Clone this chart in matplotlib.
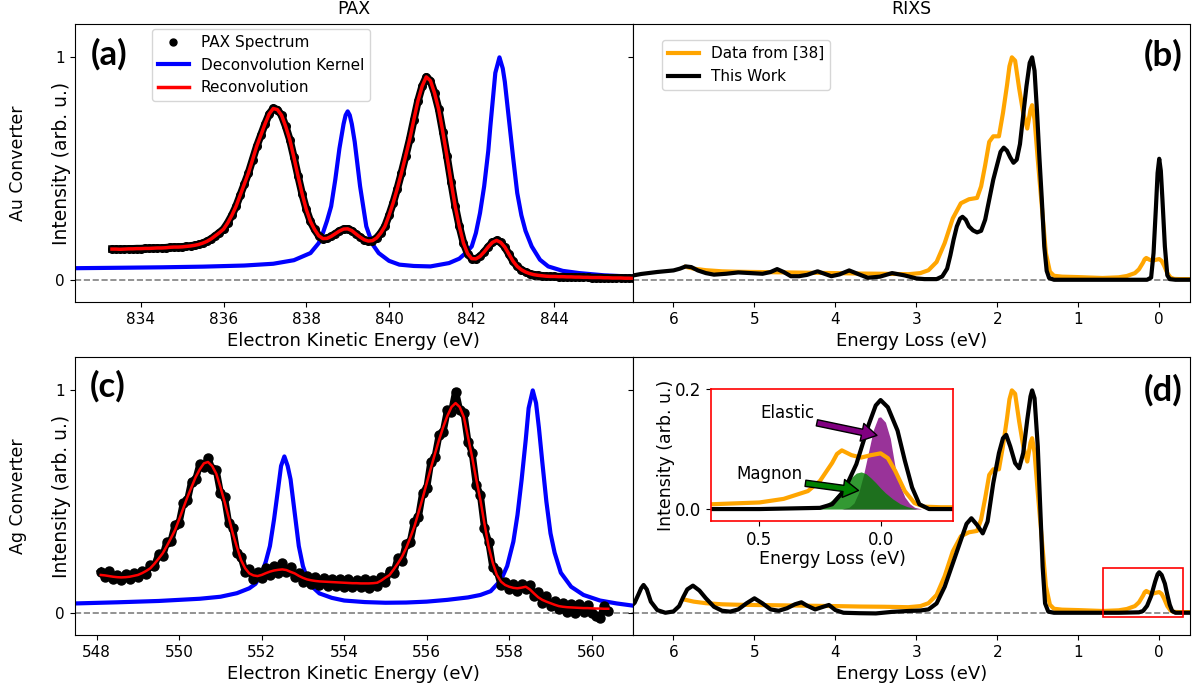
import numpy as np
import matplotlib
matplotlib.use("Agg")
import matplotlib.pyplot as plt
from matplotlib.lines import Line2D
from matplotlib.patches import Rectangle

plt.rcParams["font.family"] = "DejaVu Sans"

# ---- (a) PAX, Au converter: spectrum on a 0.1 eV grid starting at 833.3 eV
au_start = 833.3
au_pax = [0.138, 0.138, 0.137, 0.138, 0.139, 0.139, 0.140, 0.140, 0.141, 0.141,
          0.142, 0.143, 0.143, 0.144, 0.146, 0.147, 0.147, 0.148, 0.150, 0.152,
          0.155, 0.159, 0.165, 0.173, 0.184, 0.198, 0.212, 0.228, 0.256, 0.290,
          0.330, 0.380, 0.430, 0.480, 0.540, 0.600, 0.650, 0.700, 0.745, 0.770,
          0.765, 0.740, 0.690, 0.630, 0.550, 0.466, 0.385, 0.316, 0.262, 0.226,
          0.198, 0.185, 0.186, 0.195, 0.207, 0.219, 0.228, 0.229, 0.221, 0.206,
          0.192, 0.180, 0.174, 0.176, 0.188, 0.210, 0.240, 0.290, 0.346, 0.410,
          0.480, 0.555, 0.632, 0.720, 0.805, 0.870, 0.912, 0.895, 0.840, 0.767,
          0.665, 0.556, 0.440, 0.330, 0.240, 0.165, 0.118, 0.095, 0.094, 0.105,
          0.125, 0.148, 0.168, 0.177, 0.168, 0.147, 0.115, 0.083, 0.060, 0.045,
          0.035, 0.028, 0.023, 0.020, 0.018, 0.016, 0.015, 0.015, 0.014, 0.014,
          0.013, 0.013, 0.012, 0.012, 0.011, 0.011, 0.010, 0.010, 0.010, 0.009,
          0.009, 0.008, 0.008, 0.008, 0.007, 0.007, 0.006]
# reconvolution lies on the data within the line width
au_fit = list(au_pax)

au_kernel_x = [832.4, 833.5, 834.5, 835.5, 836.5, 837.2, 837.7, 838.1, 838.3, 838.4,
               838.5, 838.6, 838.7, 838.8, 838.9, 838.95, 839.0, 839.05, 839.1, 839.17,
               839.3, 839.45, 839.6, 839.75, 840.0, 840.25, 840.6, 841.0, 841.45, 841.7,
               841.85, 842.0, 842.1, 842.2, 842.3, 842.4, 842.45, 842.5, 842.57, 842.67,
               842.75, 842.8, 842.9, 843.0, 843.1, 843.2, 843.3, 843.45, 843.65, 843.85,
               844.2, 844.6, 845.2, 845.9]
au_kernel_y = [0.052, 0.054, 0.056, 0.059, 0.064, 0.072, 0.088, 0.12, 0.165, 0.21,
               0.265, 0.33, 0.45, 0.59, 0.70, 0.74, 0.757, 0.74, 0.70, 0.62,
               0.42, 0.24, 0.16, 0.12, 0.085, 0.068, 0.062, 0.06, 0.075, 0.095,
               0.12, 0.15, 0.21, 0.30, 0.42, 0.58, 0.69, 0.79, 0.93, 1.0,
               0.95, 0.89, 0.72, 0.55, 0.39, 0.29, 0.22, 0.15, 0.09, 0.06,
               0.04, 0.03, 0.02, 0.014]

# ---- (c) PAX, Ag converter: 0.1 eV grid starting at 548.1 eV
ag_start = 548.1
ag_pax = [0.185, 0.160, 0.190, 0.150, 0.172, 0.148, 0.175, 0.150, 0.180, 0.162,
          0.190, 0.176, 0.215, 0.210, 0.262, 0.255, 0.318, 0.322, 0.395, 0.405,
          0.495, 0.505, 0.590, 0.600, 0.668, 0.655, 0.695, 0.645, 0.640, 0.540,
          0.520, 0.405, 0.380, 0.270, 0.250, 0.185, 0.195, 0.150, 0.185, 0.155,
          0.200, 0.170, 0.210, 0.178, 0.225, 0.185, 0.205, 0.160, 0.180, 0.140,
          0.165, 0.128, 0.160, 0.125, 0.155, 0.122, 0.152, 0.120, 0.150, 0.118,
          0.150, 0.115, 0.148, 0.118, 0.150, 0.112, 0.148, 0.120, 0.160, 0.140,
          0.190, 0.180, 0.245, 0.235, 0.310, 0.320, 0.410, 0.430, 0.540, 0.560,
          0.680, 0.700, 0.800, 0.815, 0.910, 0.905, 0.995, 0.910, 0.900, 0.770,
          0.720, 0.575, 0.530, 0.380, 0.320, 0.205, 0.190, 0.125, 0.140, 0.105,
          0.130, 0.100, 0.130, 0.105, 0.125, 0.075, 0.095, 0.045, 0.075, 0.030,
          0.055, 0.015, 0.045, 0.005, 0.040, 0.000, 0.038, 0.005, 0.035, 0.000,
          -0.015, -0.025, 0.030, 0.010]
ag_fit = [0.170, 0.168, 0.165, 0.162, 0.160, 0.159, 0.160, 0.162, 0.166, 0.170,
          0.178, 0.188, 0.200, 0.220, 0.243, 0.267, 0.300, 0.335, 0.372, 0.420,
          0.470, 0.520, 0.565, 0.610, 0.645, 0.672, 0.678, 0.660, 0.625, 0.565,
          0.500, 0.430, 0.357, 0.295, 0.237, 0.200, 0.177, 0.168, 0.165, 0.170,
          0.178, 0.185, 0.190, 0.193, 0.195, 0.192, 0.184, 0.177, 0.166, 0.157,
          0.150, 0.146, 0.143, 0.141, 0.140, 0.139, 0.138, 0.137, 0.136, 0.135,
          0.134, 0.133, 0.133, 0.132, 0.132, 0.132, 0.133, 0.135, 0.145, 0.158,
          0.170, 0.195, 0.222, 0.252, 0.290, 0.337, 0.387, 0.450, 0.515, 0.583,
          0.650, 0.715, 0.778, 0.835, 0.885, 0.925, 0.943, 0.925, 0.880, 0.790,
          0.700, 0.600, 0.508, 0.400, 0.297, 0.225, 0.170, 0.140, 0.125, 0.117,
          0.112, 0.110, 0.113, 0.117, 0.105, 0.087, 0.070, 0.058, 0.050, 0.043,
          0.036, 0.030, 0.027, 0.025, 0.024, 0.023, 0.022, 0.021, 0.021, 0.020,
          0.019, 0.019, 0.018, 0.018]

ag_kernel_x = [547.5, 548.5, 549.5, 550.5, 551.0, 551.4, 551.7, 551.85, 552.0, 552.1,
               552.2, 552.3, 552.4, 552.47, 552.55, 552.63, 552.7, 552.8, 552.9, 553.0,
               553.15, 553.4, 553.7, 554.0, 554.5, 555.0, 555.5, 556.0, 556.5, 557.0,
               557.3, 557.55, 557.8, 557.95, 558.1, 558.2, 558.3, 558.4, 558.47, 558.57,
               558.65, 558.72, 558.8, 558.9, 559.0, 559.1, 559.25, 559.5, 559.8, 560.2,
               560.6, 561.0]
ag_kernel_y = [0.042, 0.047, 0.053, 0.063, 0.072, 0.088, 0.11, 0.13, 0.177, 0.23,
               0.30, 0.42, 0.56, 0.66, 0.703, 0.66, 0.60, 0.45, 0.30, 0.21,
               0.13, 0.087, 0.067, 0.055, 0.048, 0.045, 0.046, 0.05, 0.058, 0.069,
               0.08, 0.097, 0.147, 0.21, 0.32, 0.44, 0.598, 0.778, 0.92, 1.0,
               0.943, 0.83, 0.68, 0.50, 0.357, 0.27, 0.18, 0.117, 0.08, 0.055,
               0.042, 0.032]

# ---- RIXS, reference data [38] (same curve in (b) and (d))
ref_loss = [5.85, 5.75, 5.6, 5.4, 5.2, 5.0, 4.8, 4.6, 4.4, 4.2,
            4.0, 3.7, 3.4, 3.1, 2.95, 2.85, 2.75, 2.65, 2.55, 2.45,
            2.35, 2.25, 2.2, 2.15, 2.1, 2.05, 1.98, 1.93, 1.88, 1.85,
            1.82, 1.78, 1.73, 1.68, 1.63, 1.59, 1.57, 1.54, 1.5, 1.45,
            1.4, 1.35, 1.3, 1.2, 1.0, 0.7, 0.5, 0.4, 0.3, 0.25,
            0.22, 0.2, 0.18, 0.16, 0.12, 0.08, 0.04, 0.0, -0.03, -0.06,
            -0.1, -0.14, -0.18, -0.25, -0.38]
ref_int = [0.058, 0.05, 0.043, 0.038, 0.036, 0.035, 0.034, 0.033, 0.032, 0.031,
           0.030, 0.028, 0.027, 0.025, 0.03, 0.043, 0.08, 0.165, 0.276, 0.344,
           0.362, 0.368, 0.42, 0.515, 0.62, 0.645, 0.645, 0.75, 0.875, 0.96,
           1.0, 0.985, 0.86, 0.75, 0.68, 0.765, 0.785, 0.72, 0.54, 0.33,
           0.12, 0.036, 0.018, 0.014, 0.012, 0.008, 0.011, 0.017, 0.03, 0.047,
           0.065, 0.077, 0.092, 0.098, 0.09, 0.086, 0.09, 0.093, 0.085, 0.064,
           0.03, 0.01, 0.004, 0.003, 0.003]

# ---- (b) RIXS from Au converter (this work)
au_loss = [6.55, 6.4, 6.2, 6.0, 5.92, 5.85, 5.78, 5.7, 5.6, 5.5,
           5.35, 5.2, 5.05, 4.9, 4.8, 4.72, 4.64, 4.55, 4.45, 4.35,
           4.22, 4.12, 4.05, 3.95, 3.83, 3.72, 3.6, 3.45, 3.3, 3.15,
           3.0, 2.9, 2.75, 2.68, 2.62, 2.58, 2.54, 2.5, 2.46, 2.43,
           2.39, 2.35, 2.3, 2.25, 2.2, 2.15, 2.1, 2.05, 2.0, 1.96,
           1.92, 1.88, 1.84, 1.8, 1.76, 1.72, 1.68, 1.64, 1.6, 1.57,
           1.54, 1.51, 1.48, 1.45, 1.42, 1.39, 1.36, 1.3, 1.0, 0.5,
           0.15, 0.1, 0.07, 0.04, 0.02, 0.0, -0.02, -0.04, -0.07, -0.1,
           -0.13, -0.2, -0.38]
au_rixs = [0.016, 0.026, 0.035, 0.042, 0.05, 0.06, 0.057, 0.042, 0.03, 0.023,
           0.027, 0.033, 0.03, 0.027, 0.035, 0.048, 0.035, 0.016, 0.016, 0.022,
           0.038, 0.025, 0.016, 0.024, 0.042, 0.026, 0.009, 0.014, 0.03, 0.02,
           0.006, 0.003, 0.003, 0.015, 0.05, 0.11, 0.18, 0.24, 0.275, 0.283,
           0.27, 0.24, 0.222, 0.213, 0.22, 0.27, 0.36, 0.45, 0.52, 0.575,
           0.594, 0.58, 0.55, 0.526, 0.54, 0.61, 0.74, 0.87, 0.975, 1.0,
           0.94, 0.76, 0.55, 0.36, 0.15, 0.04, 0.008, 0.0, 0.0, 0.0,
           0.0, 0.01, 0.12, 0.33, 0.48, 0.544, 0.49, 0.36, 0.15, 0.02,
           0.003, 0.0, 0.0]

# ---- (d) RIXS from Ag converter (this work)
ag_loss = [6.55, 6.48, 6.43, 6.4, 6.37, 6.33, 6.28, 6.2, 6.1, 6.0,
           5.93, 5.88, 5.83, 5.76, 5.68, 5.6, 5.5, 5.4, 5.3, 5.2,
           5.1, 5.0, 4.9, 4.8, 4.7, 4.6, 4.5, 4.42, 4.35, 4.25,
           4.15, 4.08, 4.0, 3.9, 3.7, 3.5, 3.3, 3.1, 2.95, 2.85,
           2.75, 2.65, 2.55, 2.45, 2.38, 2.32, 2.25, 2.18, 2.12, 2.05,
           1.98, 1.93, 1.89, 1.84, 1.78, 1.73, 1.68, 1.63, 1.59, 1.57,
           1.54, 1.5, 1.47, 1.44, 1.41, 1.37, 1.3, 1.0, 0.5, 0.25,
           0.2, 0.15, 0.1, 0.05, 0.02, 0.0, -0.03, -0.07, -0.1, -0.13,
           -0.16, -0.2, -0.38]
ag_rixs = [0.02, 0.045, 0.085, 0.11, 0.125, 0.105, 0.05, 0.012, 0.0, 0.006,
           0.03, 0.07, 0.105, 0.122, 0.1, 0.065, 0.027, 0.009, 0.005, 0.015,
           0.042, 0.065, 0.042, 0.015, 0.009, 0.02, 0.038, 0.047, 0.032, 0.015,
           0.027, 0.035, 0.012, 0.0, -0.002, -0.003, 0.004, 0.008, 0.01, 0.015,
           0.042, 0.117, 0.222, 0.327, 0.4, 0.425, 0.395, 0.357, 0.41, 0.583,
           0.718, 0.785, 0.8, 0.748, 0.673, 0.65, 0.718, 0.868, 0.973, 1.0,
           0.965, 0.748, 0.477, 0.207, 0.042, 0.005, 0.0, 0.0, 0.0, 0.002,
           0.008, 0.031, 0.075, 0.14, 0.173, 0.182, 0.17, 0.131, 0.081, 0.036,
           0.008, 0.0, 0.0]

# ---- inset components near zero loss
elastic_x = [0.16, 0.13, 0.11, 0.09, 0.07, 0.05, 0.03, 0.01, 0.0, -0.02,
             -0.04, -0.06, -0.08, -0.1, -0.12, -0.14, -0.17]
elastic_y = [0.0, 0.003, 0.01, 0.028, 0.058, 0.095, 0.132, 0.153, 0.154, 0.145,
             0.118, 0.07, 0.04, 0.02, 0.009, 0.003, 0.0]
magnon_x = [0.3, 0.26, 0.23, 0.2, 0.17, 0.14, 0.12, 0.1, 0.08, 0.06,
            0.04, 0.02, 0.0, -0.02, -0.05, -0.08, -0.11, -0.15]
magnon_y = [0.0, 0.002, 0.007, 0.015, 0.028, 0.043, 0.053, 0.06, 0.062, 0.059,
            0.052, 0.044, 0.035, 0.027, 0.017, 0.009, 0.004, 0.0]
inset_xlim = (0.7, -0.3)
inset_ylim = (-0.02, 0.2)

au_energy = np.round(au_start + 0.1 * np.arange(len(au_pax)), 2)
ag_energy = np.round(ag_start + 0.1 * np.arange(len(ag_pax)), 2)

fig = plt.figure(figsize=(11.98, 6.93), dpi=100)
ax_a = fig.add_axes([0.0624, 0.5642, 0.4660, 0.4012])
ax_b = fig.add_axes([0.5284, 0.5642, 0.4649, 0.4012], sharey=ax_a)
ax_c = fig.add_axes([0.0624, 0.0837, 0.4660, 0.4011], sharey=ax_a)
ax_d = fig.add_axes([0.5284, 0.0837, 0.4649, 0.4011], sharey=ax_a)

for ax in (ax_a, ax_b, ax_c, ax_d):
    ax.axhline(0, color="gray", ls="--", lw=1.2, zorder=0)
    ax.tick_params(labelsize=11)
    ax.set_yticks([0, 1])
    ax.set_yticklabels(["0", "1"])
ax_a.set_ylim(-0.1, 1.15)

# (a)
ax_a.plot(au_kernel_x, au_kernel_y, color="blue", lw=3)
ax_a.plot(au_energy, au_pax, color="k", lw=5.5)
ax_a.plot(au_energy, au_pax, "o", color="k", ms=5.5)
ax_a.plot(au_energy, au_fit, color="red", lw=2.5)
ax_a.set_xlim(832.4, 845.9)
ax_a.set_xticks(np.arange(834, 845, 2))
ax_a.set_xlabel("Electron Kinetic Energy (eV)", fontsize=13)
ax_a.set_title("PAX", fontsize=12.5, pad=7)
handles = [Line2D([], [], marker="o", ls="none", color="k", ms=5, label="PAX Spectrum"),
           Line2D([], [], color="blue", lw=3, label="Deconvolution Kernel"),
           Line2D([], [], color="red", lw=2.5, label="Reconvolution")]
ax_a.legend(handles=handles, loc="upper left", bbox_to_anchor=(0.1385, 0.982),
            borderaxespad=0, fontsize=11)

# (c)
ax_c.plot(ag_kernel_x, ag_kernel_y, color="blue", lw=3)
ax_c.plot(ag_energy, ag_pax, color="k", lw=5)
ax_c.plot(ag_energy, ag_pax, "o", color="k", ms=6.5)
ax_c.plot(ag_energy, ag_fit, color="red", lw=1.8)
ax_c.set_xlim(547.47, 561.0)
ax_c.set_xticks(np.arange(548, 561, 2))
ax_c.set_xlabel("Electron Kinetic Energy (eV)", fontsize=13)

for ax, conv in ((ax_a, "Au Converter"), (ax_c, "Ag Converter")):
    ax.set_ylabel("Intensity (arb. u.)", fontsize=13.5)
    ax.yaxis.set_label_coords(-0.007, 0.5)
    ax.text(-0.101, 0.5, conv, transform=ax.transAxes, rotation=90,
            ha="center", va="center", fontsize=12.5)

# (b)
ax_b.plot(ref_loss, ref_int, color="orange", lw=3, label="Data from [38]")
ax_b.plot(au_loss, au_rixs, color="k", lw=3, label="This Work")
ax_b.set_title("RIXS", fontsize=12.5, pad=7)
ax_b.legend(loc="upper left", bbox_to_anchor=(0.052, 0.942), borderaxespad=0,
            fontsize=11)

# (d)
ax_d.plot(ref_loss, ref_int, color="orange", lw=3)
ax_d.plot(ag_loss, ag_rixs, color="k", lw=3)

for ax in (ax_b, ax_d):
    ax.set_xlim(6.5, -0.38)
    ax.set_xticks(range(6, -1, -1))
    ax.set_xlabel("Energy Loss (eV)", fontsize=13)
    ax.tick_params(labelleft=False)

ax_d.add_patch(Rectangle((min(inset_xlim), inset_ylim[0]),
                         abs(inset_xlim[0] - inset_xlim[1]),
                         inset_ylim[1] - inset_ylim[0],
                         fill=False, edgecolor="red", lw=1.2, zorder=4))

ins = ax_d.inset_axes([0.14, 0.41, 0.435, 0.474])
ins.plot(ref_loss, ref_int, color="orange", lw=3)
ins.fill_between(elastic_x, elastic_y, color="purple", alpha=0.8, lw=0)
ins.fill_between(magnon_x, magnon_y, color="green", alpha=0.8, lw=0)
ins.plot(ag_loss, ag_rixs, color="k", lw=3)
ins.set_xlim(*inset_xlim)
ins.set_ylim(*inset_ylim)
ins.set_xticks([0.5, 0.0])
ins.set_yticks([0.0, 0.2])
ins.tick_params(labelsize=12)
ins.set_xlabel("Energy Loss (eV)", fontsize=12.5, labelpad=1)
ins.set_ylabel("Intensity (arb. u.)", fontsize=12.5, labelpad=0)
for s in ins.spines.values():
    s.set_edgecolor("red")
    s.set_linewidth(1.2)
ins.annotate("Elastic", xy=(0.015, 0.123), xytext=(0.386, 0.16),
             ha="center", va="center", fontsize=12,
             arrowprops=dict(facecolor="purple", edgecolor="black", lw=1,
                             width=4.5, headwidth=13, headlength=11, shrink=0))
ins.annotate("Magnon", xy=(0.091, 0.031), xytext=(0.458, 0.0587),
             ha="center", va="center", fontsize=12,
             arrowprops=dict(facecolor="green", edgecolor="black", lw=1,
                             width=4.5, headwidth=13, headlength=11, shrink=0))

for ax, lab, x, y in ((ax_a, "(a)", 0.062, 0.892), (ax_b, "(b)", 0.951, 0.888),
                      (ax_c, "(c)", 0.059, 0.894), (ax_d, "(d)", 0.951, 0.882)):
    ax.text(x, y, lab, transform=ax.transAxes, ha="center", va="center",
            fontsize=25, fontweight="bold", family="Lato")

fig.savefig("out.png", dpi=100)
